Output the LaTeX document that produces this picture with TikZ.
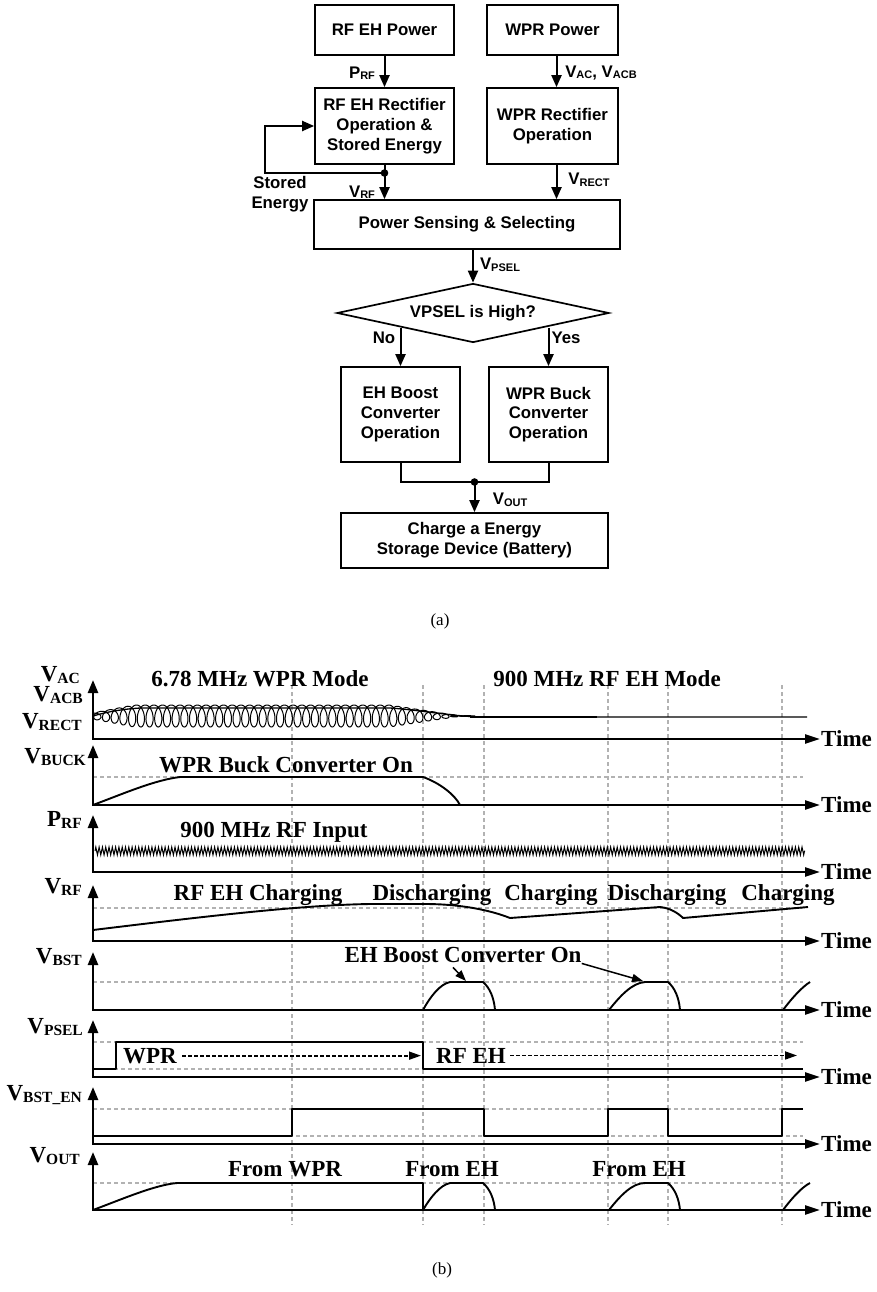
\documentclass[tikz,border=0pt]{standalone}
\usepackage{fontspec}
\setmainfont{Liberation Serif}
\newfontfamily\sansfam{Liberation Sans}
\usetikzlibrary{arrows.meta,shapes.geometric,decorations.pathmorphing,calc}
\newcommand{\fcfont}{\sansfam\bfseries\fontsize{16.8}{19.8}\selectfont}
\newcommand{\fsub}[1]{\raisebox{-1.5pt}{\fontsize{11}{11}\selectfont #1}}
\newcommand{\tmfont}{\bfseries\fontsize{23}{25}\selectfont}
\newcommand{\tsub}[1]{\raisebox{-2.5pt}{\fontsize{15.5}{15.5}\selectfont #1}}
\begin{document}
\begin{tikzpicture}[x=1pt,y=-1pt,
 box/.style={draw, line width=1.7pt, align=center, inner sep=0pt, font=\fcfont},
 arr/.style={line width=2pt, -{Triangle[length=12pt,width=10pt]}},
 ln/.style={line width=2pt},
 lab/.style={font=\fcfont, inner sep=0pt, align=center},
 axs/.style={line width=2.5pt, line join=miter, {Triangle[length=13pt,width=10pt]}-{Triangle[length=15pt,width=9pt]}},
 guide/.style={gray!60, line width=1.1pt, dash pattern=on 4pt off 3pt},
 wave/.style={line width=1.9pt, line join=round},
 tl/.style={font=\tmfont, inner sep=0pt},
 barr/.style={line width=1.5pt, -{Triangle[length=11pt,width=8pt]}},
 darr/.style={line width=1.7pt, dash pattern=on 3.5pt off 2.5pt, -{Triangle[length=12pt,width=8pt]}},
 declare function={env(\t)=min(11,3+0.27*\t,max(0.3,0.216*(265-\t)));}
]
\useasboundingbox (0,0) rectangle (877,1292);

% ---------------- (a) flowchart ----------------
\node[box, minimum width=139pt, minimum height=50pt] (rfp) at (384.5,30) {RF EH Power};
\node[box, minimum width=131pt, minimum height=50pt] (wprp) at (552.5,30) {WPR Power};
\node[box, minimum width=139pt, minimum height=76pt] (rfrect) at (384.5,126) {RF EH Rectifier\\Operation \&\\Stored Energy};
\node[box, minimum width=131pt, minimum height=76pt] (wprrect) at (552.5,126) {WPR Rectifier\\Operation};
\node[box, minimum width=306pt, minimum height=49pt] (pss) at (467,224.5) {Power Sensing \& Selecting};
\node[diamond, draw, line width=1.7pt, aspect=4.6, minimum width=272pt, minimum height=59pt, inner sep=0pt, font=\fcfont] (dia) at (473,313) {VPSEL is High?};
\node[box, minimum width=119pt, minimum height=95pt] (boost) at (400.5,414.5) {EH Boost\\Converter\\Operation};
\node[box, minimum width=119pt, minimum height=95pt] (buck) at (548.5,414.5) {WPR Buck\\Converter\\Operation};
\node[box, minimum width=267pt, minimum height=55pt] (chg) at (474.5,540.5) {Charge a Energy\\Storage Device (Battery)};

\coordinate (dRF) at (384.5,173);
\coordinate (fb) at (265,173);
\coordinate (merge) at (474.5,482);

\draw[arr] (rfp) -- (rfrect);
\draw[arr] ([xshift=4pt]wprp.south) -- ([xshift=4pt]wprrect.north);
\draw[ln] (rfrect.south) -- (dRF);
\draw[arr] (dRF) -- (dRF |- pss.north);
\draw[arr] (dRF) -- (fb) |- (rfrect.west);
\fill (dRF) circle (3.8pt);
\draw[arr] ([xshift=4pt]wprrect.south) -- ([xshift=4pt]wprrect.south |- pss.north);
\draw[arr] (pss.south -| dia.north) -- (dia.north);
\draw[arr] (boost.north |- dia.south west) -- (boost.north);
\draw[arr] (buck.north |- dia.south east) -- (buck.north);
\draw[ln] (boost.south) |- (merge) -| (buck.south);
\draw[arr] (merge) -- (chg.north);
\fill (merge) circle (3.8pt);

\node[lab] (lprf) at (362,73) {P\fsub{RF}};
\node[lab] (lvac) at (601,73) {V\fsub{AC}, V\fsub{ACB}};
\node[lab] (lse) at (280,194) {Stored\\Energy};
\node[lab] (lvrf) at (362,192) {V\fsub{RF}};
\node[lab] (lvrect) at (589,180) {V\fsub{RECT}};
\node[lab] (lvpsel) at (500,265) {V\fsub{PSEL}};
\node[lab] (lno) at (384,338) {No};
\node[lab] (lyes) at (566,338) {Yes};
\node[lab] (lvout) at (510,500) {V\fsub{OUT}};

\node[font=\fontsize{17}{17}\selectfont, inner sep=0pt] (capa) at (440,621) {(a)};

% ---------------- (b) timing diagram ----------------
\foreach \gx in {292,423,484,608,668,782} \draw[guide] (\gx,685) -- (\gx,1225);
\foreach \gy in {777,908,982,1042,1069,1109,1136,1183} \draw[guide] (93,\gy) -- (803,\gy);

\foreach \b/\t [count=\i] in {739/680, 805/745, 872/815, 941/885, 1010/952, 1077/1020, 1144/1087, 1210/1152} {
  \draw[axs] (93,\t) -- (93,\b) -- (820,\b);
  \node[tl, anchor=west] (time\i) at (821,\b) {Time};
}

\node[tl, anchor=base east] (yl1) at (80,681) {V\tsub{AC}};
\node[tl, anchor=base east] (yl2) at (83,701) {V\tsub{ACB}};
\node[tl, anchor=base east] (yl3) at (82,728) {V\tsub{RECT}};
\node[tl, anchor=base east] (yl4) at (86,763) {V\tsub{BUCK}};
\node[tl, anchor=base east] (yl5) at (82,826) {P\tsub{RF}};
\node[tl, anchor=base east] (yl6) at (82,893) {V\tsub{RF}};
\node[tl, anchor=base east] (yl7) at (82,963) {V\tsub{BST}};
\node[tl, anchor=base east] (yl8) at (83,1033) {V\tsub{PSEL}};
\node[tl, anchor=base east] (yl9) at (82,1100) {V\tsub{BST\_EN}};
\node[tl, anchor=base east] (yl10) at (80,1162) {V\tsub{OUT}};

\node[tl, anchor=base] (m1) at (260,686) {6.78 MHz WPR Mode};
\node[tl, anchor=base] (m2) at (607,686) {900 MHz RF EH Mode};
\node[tl, anchor=base] (bk) at (286,772) {WPR Buck Converter On};
\node[tl, anchor=base] (rfin) at (274,837) {900 MHz RF Input};
\node[tl, anchor=base] (c1) at (258,900) {RF EH Charging};
\node[tl, anchor=base] (d1) at (432,900) {Discharging};
\node[tl, anchor=base] (c2) at (551,900) {Charging};
\node[tl, anchor=base] (d2) at (667,900) {Discharging};
\node[tl, anchor=base] (c3) at (788,900) {Charging};
\node[tl, anchor=base] (bst) at (463,962) {EH Boost Converter On};
\node[tl, anchor=base] (wpr) at (150,1063) {WPR};
\node[tl, anchor=base] (rfeh) at (471,1063) {RF EH};
\node[tl, anchor=base] (fw) at (285,1176) {From WPR};
\node[tl, anchor=base] (fe1) at (452,1176) {From EH};
\node[tl, anchor=base] (fe2) at (639,1176) {From EH};

% panel 1: WPR AC / rectified
\draw[line width=1pt] plot[domain=0:272, samples=1300, variable=\t]
  ({93+1.385*\t+5.6*sin(\t r)}, {716-env(\t)*cos(\t r)});
\draw[line width=1.3pt] (93,716) .. controls (110,711) and (125,709) .. (140,708) -- (390,708)
  .. controls (420,710) and (450,716) .. (480,717) -- (807,717);
\draw[line width=2.1pt] (470,717) -- (597,717);

% panel 2: buck
\draw[wave] (93,805) .. controls (125,793) and (155,780) .. (180,777) -- (423,777)
  .. controls (440,783) and (455,795) .. (460,805);

% panel 3: RF input
\draw[line width=1pt, decorate, decoration={zigzag, segment length=3.3pt, amplitude=4pt}] (95,851) -- (805,851);

% panel 4: VRF
\draw[wave] (93,930) .. controls (200,917) and (300,905) .. (370,904) -- (425,904)
  .. controls (460,904) and (490,910) .. (510,918) -- (660,907)
  .. controls (670,908) and (678,913) .. (683,918) -- (808,907);

% panel 5: VBST
\draw[wave] (423,1010) .. controls (430,997) and (440,984) .. (450,982) -- (483,982)
  .. controls (490,988) and (494,998) .. (495,1010);
\draw[wave] (609,1010) .. controls (620,996) and (632,983) .. (645,982) -- (668,982)
  .. controls (675,988) and (679,998) .. (680,1010);
\draw[wave] (783,1010) .. controls (792,998) and (802,987) .. (810,982);
\coordinate (bp1) at (466,981);
\coordinate (bp2) at (643,981);
\draw[barr] ([shift={(-10,5)}]bst.south) -- (bp1);
\draw[barr] ([shift={(0,1)}]bst.south east) -- (bp2);

% panel 6: VPSEL
\draw[wave] (93,1069) -- (116,1069) -- (116,1042) -- (423,1042) -- (423,1069) -- (803,1069);
\coordinate (we) at (421,1055);
\coordinate (re) at (797,1055);
\draw[darr] ([xshift=5pt]wpr.east) -- (we |- wpr.east);
\draw[darr] ([xshift=4pt]rfeh.east) -- (re |- rfeh.east);

% panel 7: VBST_EN
\draw[wave] (93,1136) -- (292,1136) -- (292,1109) -- (484,1109) -- (484,1136) -- (608,1136)
  -- (608,1109) -- (668,1109) -- (668,1136) -- (782,1136) -- (782,1109) -- (803,1109);

% panel 8: VOUT
\draw[wave] (93,1210) .. controls (125,1198) and (155,1185) .. (177,1183) -- (423,1183) -- (423,1210)
  .. controls (430,1198) and (440,1185) .. (450,1183) -- (483,1183)
  .. controls (490,1189) and (494,1199) .. (495,1210);
\draw[wave] (609,1210) .. controls (620,1196) and (632,1183) .. (645,1183) -- (668,1183)
  .. controls (675,1189) and (679,1199) .. (680,1210);
\draw[wave] (783,1210) .. controls (792,1198) and (802,1187) .. (810,1183);

\node[font=\fontsize{17}{17}\selectfont, inner sep=0pt] (capb) at (442,1270) {(b)};
\end{tikzpicture}
\end{document}
